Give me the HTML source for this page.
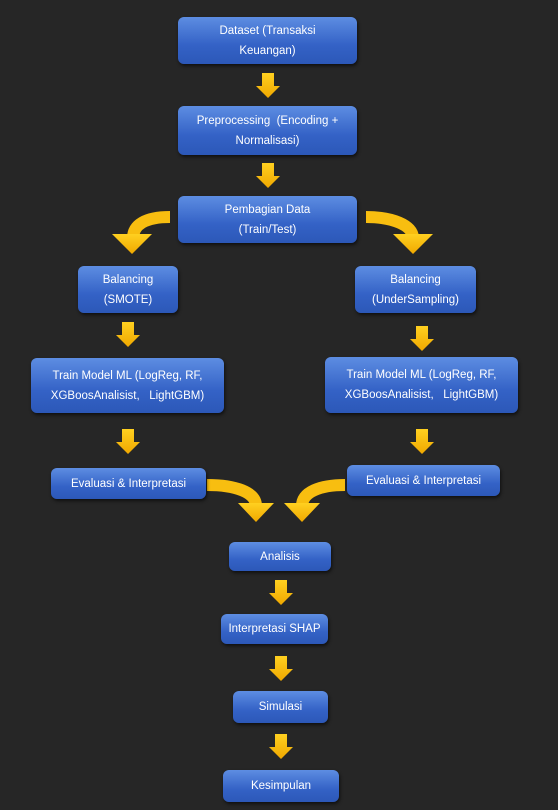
<!DOCTYPE html>
<html><head><meta charset="utf-8"><style>
body{margin:0;background:#262626;width:558px;height:810px;position:relative;overflow:hidden;font-family:"Liberation Sans",sans-serif}
.b{position:absolute;box-sizing:border-box;border-radius:6px;background:linear-gradient(#5d8de2,#3462c6 60%,#2c58b8);color:#fff;font-size:11.5px;display:flex;align-items:center;justify-content:center;text-align:center;line-height:20px;box-shadow:1px 2px 3px rgba(0,0,0,.6)}
svg{position:absolute;left:0;top:0}
</style></head><body>
<svg width="558" height="810">
<defs><linearGradient id="g" x1="0" y1="0" x2="0" y2="1"><stop offset="0" stop-color="#ffd020"/><stop offset="1" stop-color="#f0a800"/></linearGradient>
<path id="d" d="M-6,0h12v13h6l-12,12l-12,-12h6z"/>
</defs>
<g fill="url(#g)">
<use href="#d" x="268" y="73"/>
<use href="#d" x="268" y="163"/>
<use href="#d" x="128" y="322"/>
<use href="#d" x="422" y="326"/>
<use href="#d" x="128" y="429"/>
<use href="#d" x="422" y="429"/>
<use href="#d" x="281" y="580"/>
<use href="#d" x="281" y="656"/>
<use href="#d" x="281" y="734"/>
</g>
<g fill="none" stroke="#f8be10" stroke-width="12">
<path d="M170,217 C145,217 133,225 133,238"/>
<path d="M366,217 C392,217 413,225 413,238"/>
<path d="M207,485 C235,485 256,492 256,506"/>
<path d="M345,485 C320,485 302,492 302,506"/>
</g>
<g fill="url(#g)">
<path d="M112,234h40l-20,20z"/>
<path d="M393,234h40l-20,20z"/>
<path d="M238,503h36l-18,19z"/>
<path d="M284,503h36l-18,19z"/>
</g>
</svg>
<div class="b" style="left:178px;top:17px;width:179px;height:47px">Dataset (Transaksi<br>Keuangan)</div>
<div class="b" style="left:178px;top:106px;width:179px;height:49px">Preprocessing &nbsp;(Encoding +<br>Normalisasi)</div>
<div class="b" style="left:178px;top:196px;width:179px;height:47px">Pembagian Data<br>(Train/Test)</div>
<div class="b" style="left:78px;top:266px;width:100px;height:47px">Balancing<br>(SMOTE)</div>
<div class="b" style="left:355px;top:266px;width:121px;height:47px">Balancing<br>(UnderSampling)</div>
<div class="b" style="left:31px;top:358px;width:193px;height:55px">Train Model ML (LogReg, RF,<br>XGBoosAnalisist, &nbsp;&nbsp;LightGBM)</div>
<div class="b" style="left:325px;top:357px;width:193px;height:56px">Train Model ML (LogReg, RF,<br>XGBoosAnalisist, &nbsp;&nbsp;LightGBM)</div>
<div class="b" style="left:51px;top:468px;width:155px;height:31px">Evaluasi &amp; Interpretasi</div>
<div class="b" style="left:347px;top:465px;width:153px;height:31px">Evaluasi &amp; Interpretasi</div>
<div class="b" style="left:229px;top:542px;width:102px;height:29px">Analisis</div>
<div class="b" style="left:221px;top:614px;width:107px;height:30px">Interpretasi SHAP</div>
<div class="b" style="left:233px;top:691px;width:95px;height:32px">Simulasi</div>
<div class="b" style="left:223px;top:770px;width:116px;height:32px">Kesimpulan</div>
</body></html>
